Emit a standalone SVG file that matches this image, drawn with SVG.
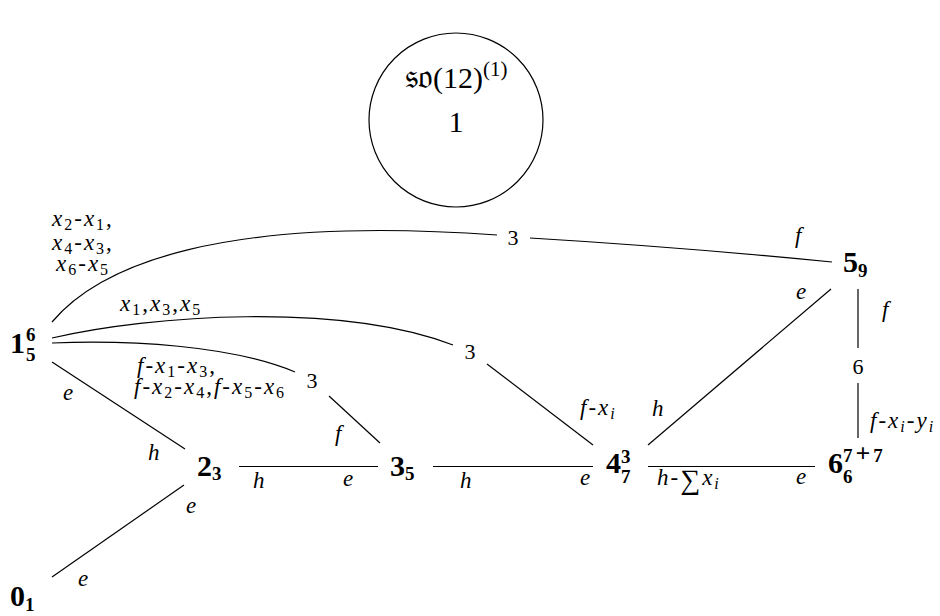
<svg xmlns="http://www.w3.org/2000/svg" width="940" height="616" viewBox="0 0 940 616">
<style>
.bg{fill:#fff}
.e{fill:none;stroke:#000;stroke-width:1.2}
.n{font-family:"Liberation Serif",serif;font-weight:bold;font-size:30px;fill:#000}
.ns{font-family:"Liberation Serif",serif;font-weight:bold;font-size:19px;fill:#000}
.l{font-family:"Liberation Serif",serif;font-style:italic;font-size:23px;fill:#000}
.w{letter-spacing:2px}
.s{font-size:16px;font-style:normal}
.si{font-size:16px}
.u{font-style:normal}
.num{font-family:"Liberation Serif",serif;font-size:22px;fill:#000}
.c{font-family:"Liberation Serif","DejaVu Serif",serif;font-size:30px;fill:#000}
</style>
<rect class="bg" x="0" y="0" width="940" height="616"/>
<g id="connectors">
<path class="e" d="M52,322 C100,265 220,215 497,235"/>
<path class="e" d="M530,238 Q680,247 832,262"/>
<path class="e" d="M52,338 C150,315 340,302 453,345"/>
<path class="e" d="M487,364 L593,445"/>
<path class="e" d="M52,343 C130,340 230,345 295,372"/>
<path class="e" d="M329,396 L380,443"/>
<path class="e" d="M52,362 L185,449"/>
<path class="e" d="M52,577 L184,485"/>
<path class="e" d="M239,466.5 L378,466.5"/>
<path class="e" d="M433,466.5 L593,466.5"/>
<path class="e" d="M648,466.5 L815,466.5"/>
<path class="e" d="M648,445 L831,289"/>
<path class="e" d="M858,289 L858,348"/>
<path class="e" d="M858,383 L858,438"/>
<text class="num" x="513" y="245" text-anchor="middle">3</text>
<text class="num" x="470" y="359" text-anchor="middle">3</text>
<text class="num" x="312" y="388" text-anchor="middle">3</text>
<text class="num" x="858" y="374" text-anchor="middle">6</text>
<text class="l w" x="52" y="226">x<tspan class="s" dy="4">2</tspan><tspan class="u" dy="-4">-</tspan>x<tspan class="s" dy="4">1</tspan><tspan class="u" dy="-4">,</tspan><tspan x="52" dy="24">x</tspan><tspan class="s" dy="4">4</tspan><tspan class="u" dy="-4">-</tspan>x<tspan class="s" dy="4">3</tspan><tspan class="u" dy="-4">,</tspan><tspan x="56" dy="21">x</tspan><tspan class="s" dy="4">6</tspan><tspan class="u" dy="-4">-</tspan>x<tspan class="s" dy="4">5</tspan></text>
<text class="l w" x="120" y="311">x<tspan class="s" dy="4">1</tspan><tspan class="u" dy="-4">,</tspan>x<tspan class="s" dy="4">3</tspan><tspan class="u" dy="-4">,</tspan>x<tspan class="s" dy="4">5</tspan></text>
<text class="l w" x="137" y="373">f<tspan class="u">-</tspan>x<tspan class="s" dy="4">1</tspan><tspan class="u" dy="-4">-</tspan>x<tspan class="s" dy="4">3</tspan><tspan class="u" dy="-4">,</tspan><tspan x="134" dy="21">f</tspan><tspan class="u">-</tspan>x<tspan class="s" dy="4">2</tspan><tspan class="u" dy="-4">-</tspan>x<tspan class="s" dy="4">4</tspan><tspan class="u" dy="-4">,</tspan>f<tspan class="u">-</tspan>x<tspan class="s" dy="4">5</tspan><tspan class="u" dy="-4">-</tspan>x<tspan class="s" dy="4">6</tspan></text>
<text class="l" x="63" y="400">e</text>
<text class="l" x="148" y="460">h</text>
<text class="l" x="335" y="441">f</text>
<text class="l" x="253" y="488">h</text>
<text class="l" x="343" y="486">e</text>
<text class="l" x="460" y="488">h</text>
<text class="l" x="580" y="485">e</text>
<text class="l w" x="580" y="415">f<tspan class="u">-</tspan>x<tspan class="si" dy="4">i</tspan></text>
<text class="l" x="652" y="416">h</text>
<text class="l w" x="657" y="485">h<tspan class="u">-</tspan><tspan class="u" font-size="28" dy="4">∑</tspan><tspan dy="-4">x</tspan><tspan class="si" dy="4">i</tspan></text>
<text class="l" x="796" y="484">e</text>
<text class="l" x="186" y="513">e</text>
<text class="l" x="78" y="586">e</text>
<text class="l" x="795" y="243">f</text>
<text class="l" x="796" y="299">e</text>
<text class="l" x="882" y="317">f</text>
<text class="l w" x="870" y="428">f<tspan class="u">-</tspan>x<tspan class="si" dy="4">i</tspan><tspan class="u" dy="-4">-</tspan>y<tspan class="si" dy="4">i</tspan></text>
</g>
<g id="node-so12">
<circle cx="456" cy="120" r="87" fill="none" stroke="#000" stroke-width="1.2"/>
<text class="c" x="405" y="88"><tspan font-size="35">𝔰𝔬</tspan>(12)<tspan font-size="21" dy="-12">(1)</tspan></text>
<text class="c" x="456" y="132" text-anchor="middle">1</text>
</g>
<g id="node-0"><text class="n" x="10" y="606">0</text><text class="ns" x="25" y="611">1</text></g>
<g id="node-1"><text class="n" x="10" y="353">1</text><text class="ns" x="26" y="341">6</text><text class="ns" x="26" y="361">5</text></g>
<g id="node-2"><text class="n" x="197" y="476">2</text><text class="ns" x="212" y="480">3</text></g>
<g id="node-3"><text class="n" x="390" y="476">3</text><text class="ns" x="405" y="480">5</text></g>
<g id="node-4"><text class="n" x="606" y="473">4</text><text class="ns" x="621" y="463">3</text><text class="ns" x="621" y="483">7</text></g>
<g id="node-5"><text class="n" x="843" y="272">5</text><text class="ns" x="858" y="277">9</text></g>
<g id="node-6"><text class="n" x="828" y="473">6</text><text class="ns" x="843" y="462" letter-spacing="3">7<tspan font-size="26">+</tspan>7</text><text class="ns" x="843" y="483">6</text></g>
</svg>
